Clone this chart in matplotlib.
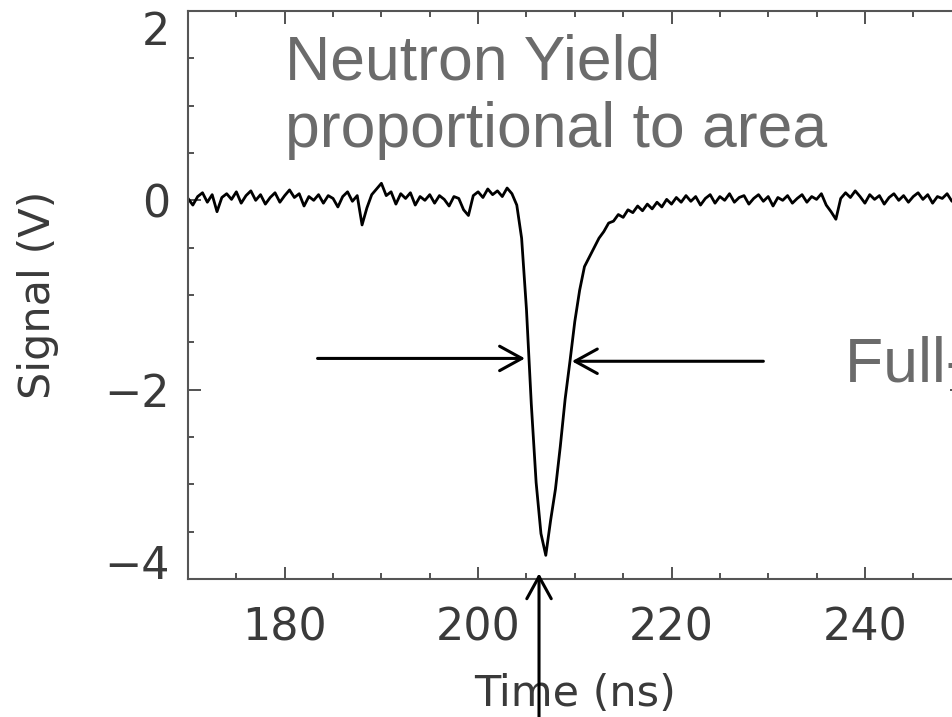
import numpy as np
import matplotlib
matplotlib.use('Agg')
import matplotlib.pyplot as plt
from matplotlib.ticker import MultipleLocator

plt.rcParams['font.family'] = 'DejaVu Sans'

# detector trace, sampled every 0.5 ns starting at 170 ns
t_start = 170.0
t_step = 0.5

# 170.0 .. 203.5 ns, flat baseline before the pulse
baseline_before = [
    0.02, -0.05, 0.04, 0.08, -0.02, 0.06, -0.12, 0.03, 0.07, 0.01,
    0.09, -0.03, 0.05, 0.10, 0.00, 0.06, -0.04, 0.03, 0.08, -0.02,
    0.05, 0.11, 0.03, 0.07, -0.06, 0.04, 0.00, 0.06, -0.03, 0.05,
    0.02, -0.07, 0.04, 0.09, -0.01, 0.05, -0.26, -0.08, 0.06, 0.12,
    0.18, 0.05, 0.09, -0.04, 0.07, 0.02, 0.08, -0.05, 0.04, 0.00,
    0.06, -0.03, 0.05, 0.01, -0.06, 0.04, 0.02, -0.10, -0.16, 0.05,
    0.09, 0.03, 0.12, 0.06, 0.10, 0.04, 0.13, 0.07,
]
# 204.0 .. 216.0 ns, the neutron pulse
pulse = [
    -0.05, -0.40, -1.15, -2.15, -2.98, -3.52, -3.75, -3.38, -3.05, -2.60,
    -2.10, -1.70, -1.28, -0.95, -0.70, -0.60, -0.50, -0.40, -0.33, -0.24,
    -0.22, -0.15, -0.18, -0.10, -0.13,
]
# 216.5 .. 250.0 ns, recovery and baseline after the pulse
baseline_after = [
    -0.06, -0.11, -0.04, -0.09, -0.02, -0.07, 0.01, -0.04, 0.03, -0.02,
    0.05, -0.01, 0.04, -0.05, 0.02, 0.06, -0.03, 0.04, 0.00, 0.07,
    -0.02, 0.03, 0.05, -0.04, 0.02, 0.06, -0.01, 0.04, -0.06, 0.03,
    0.00, 0.05, -0.03, 0.02, 0.06, -0.02, 0.04, 0.01, 0.07, -0.05,
    -0.12, -0.20, 0.02, 0.08, 0.03, 0.10, 0.04, -0.03, 0.06, 0.01,
    0.05, -0.04, 0.03, 0.07, 0.00, 0.05, -0.02, 0.04, 0.08, 0.01,
    0.06, -0.03, 0.04, 0.02, 0.07, -0.01, 0.05, 0.03,
]

signal = np.array(baseline_before + pulse + baseline_after)
time_ns = t_start + t_step * np.arange(len(signal))

fig = plt.figure(figsize=(9.52, 7.17), dpi=100)
ax = fig.add_axes([188 / 952, 1 - 579 / 717, 773.6 / 952, 568 / 717])

ax.plot(time_ns, signal, color='black', lw=2.0)

ax.set_xlim(170, 250)
ax.set_ylim(-4, 2)
ax.xaxis.set_major_locator(MultipleLocator(20))
ax.xaxis.set_minor_locator(MultipleLocator(5))
ax.yaxis.set_major_locator(MultipleLocator(2))
ax.yaxis.set_minor_locator(MultipleLocator(0.5))

for s in ax.spines.values():
    s.set_color('#555555')
    s.set_linewidth(1.5)

ax.tick_params(which='both', direction='in', top=True, right=True,
               color='#444444', width=1.3, labelsize=32, labelcolor='#3a3a3a')
ax.tick_params(which='major', length=9)
ax.tick_params(which='minor', length=4)
ax.tick_params(axis='x', pad=20)
ax.tick_params(axis='y', pad=13)

# keep the end labels of the y axis inside the frame, like the original plot
fig.canvas.draw()
for tick in ax.yaxis.get_major_ticks():
    if np.isclose(tick.get_loc(), 2):
        tick.label1.set_va('top')
    elif np.isclose(tick.get_loc(), -4):
        tick.label1.set_va('baseline')

ax.set_xlabel('Time (ns)', fontsize=31, color='#3a3a3a')
ax.set_ylabel('Signal (V)', fontsize=31, color='#3a3a3a')
ax.xaxis.set_label_coords(0.5, -0.165)
ax.yaxis.set_label_coords(-0.167, 0.5)

# slide annotations
note_color = '#6b6b6b'
fig.text(285 / 952, 1 - 33 / 717, 'Neutron Yield\nproportional to area',
         family='Liberation Sans', fontsize=45, color=note_color,
         ha='left', va='top')
fig.text(845 / 952, 1 - 336 / 717, 'Full-width half max',
         family='Liberation Sans', fontsize=45, color=note_color,
         ha='left', va='top')

arrow = dict(arrowstyle='->,head_length=0.4,head_width=0.22', lw=2.2,
             color='black', shrinkA=0, shrinkB=0, mutation_scale=40)
ax.annotate('', xy=(204.85, -1.67), xytext=(183.4, -1.67),
            arrowprops=arrow, annotation_clip=False)
ax.annotate('', xy=(209.7, -1.70), xytext=(229.5, -1.70),
            arrowprops=arrow, annotation_clip=False)
ax.annotate('', xy=(206.3, -3.94), xytext=(206.3, -5.6),
            arrowprops=arrow, annotation_clip=False)

fig.savefig('out.png', dpi=100)
